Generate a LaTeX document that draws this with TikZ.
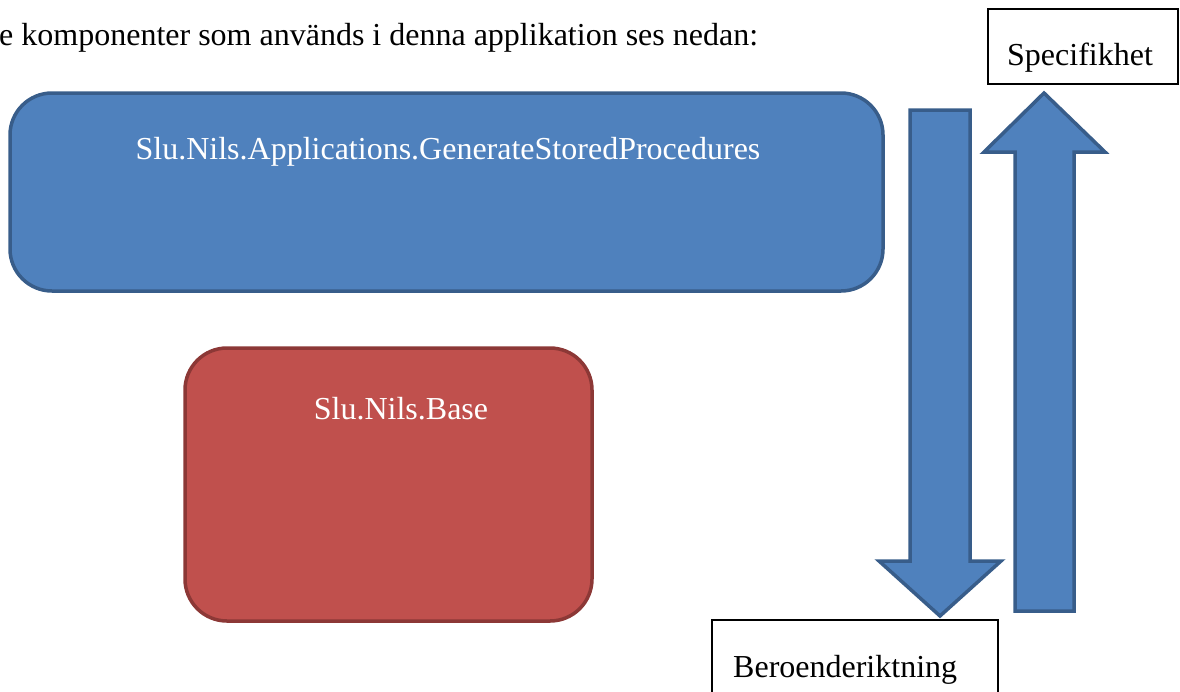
\documentclass[tikz,border=0pt]{standalone}
\usepackage{fontspec}
\setmainfont{LiberationSerif}[Extension=.ttf, UprightFont=*-Regular, BoldFont=*-Bold]
\definecolor{bfill}{HTML}{4F81BD}
\definecolor{bline}{HTML}{385D8A}
\definecolor{rfill}{HTML}{C0504D}
\definecolor{rline}{HTML}{8C3836}
\tikzset{
  big/.style={font=\fontsize{32}{38}\selectfont, inner sep=0pt},
  wtext/.style={big, text=white, anchor=base},
  comp/.style={draw, line width=3.5pt, rounded corners=42pt},
  blk/.style={fill=bfill, draw=bline, line width=3.5pt, line join=miter},
  lbox/.style={draw=black, line width=1.5pt, fill=white}
}
\begin{document}
\begin{tikzpicture}[x=1pt,y=-1pt]
\useasboundingbox (0,0) rectangle (1180,691);
\clip (0,0) rectangle (1180,691);
% top sentence
\node[big, anchor=base west] (intro) at (-1,45) {e komponenter som används i denna applikation ses nedan:};
% components
\path[comp, fill=bfill, draw=bline] (10,93) rectangle (883,291);
\node[wtext] (app) at (448,159) {Slu.Nils.Applications.GenerateStoredProcedures};
\path[comp, fill=rfill, draw=rline] (185,348) rectangle (592,621);
\node[wtext] (base) at (401,419) {Slu.Nils.Base};
% down arrow
\path[blk] (910,110) -- (970,110) -- (970,561) -- (1001,561) -- (940,616) -- (879,561) -- (910,561) -- cycle;
% up arrow
\path[blk] (1015,611) -- (1074,611) -- (1074,152) -- (1105,152) -- (1044,93) -- (984,152) -- (1015,152) -- cycle;
% label boxes
\path[lbox] (988,9) rectangle (1178,84);
\node[big, anchor=base] (spec) at (1080,65) {Specifikhet};
\path[lbox] (712,620) rectangle (998,705);
\node[big, anchor=base west] (dep) at (733,677) {Beroenderiktning};
\end{tikzpicture}
\end{document}
